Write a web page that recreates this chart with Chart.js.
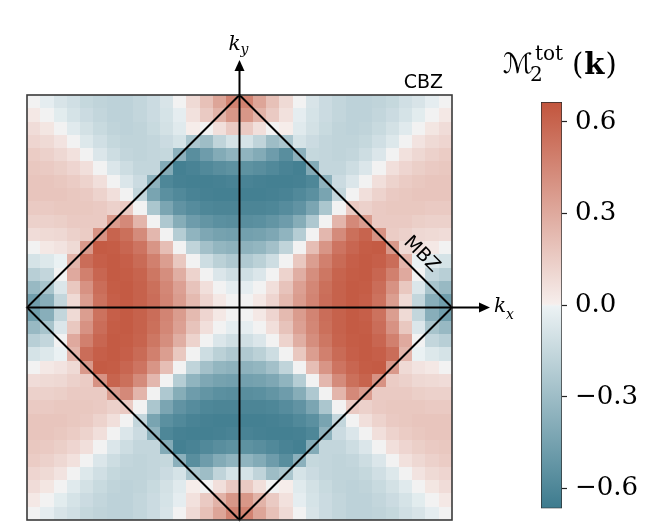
<!DOCTYPE html>
<html>
<head>
<meta charset="utf-8">
<script src="https://cdn.jsdelivr.net/npm/chart.js@4.4.1/dist/chart.umd.min.js"></script>
<style>
  html, body { margin: 0; padding: 0; background: #fff; }
  #wrap { position: relative; width: 664px; height: 532px; }
  #map { position: absolute; left: 0; top: 0; }
  #cbar { position: absolute; left: 490px; top: 0; }
</style>
</head>
<body>
<div id="wrap">
  <canvas id="map" width="664" height="532"></canvas>
  <canvas id="cbar" width="174" height="532"></canvas>
</div>
<script>
// cell centres (units of pi/a), columns left->right and rows top->bottom
const kxCenters = [-0.96875,-0.90625,-0.84375,-0.78125,-0.71875,-0.65625,-0.59375,-0.53125,-0.46875,-0.40625,-0.34375,-0.28125,-0.21875,-0.15625,-0.09375,-0.03125,0.03125,0.09375,0.15625,0.21875,0.28125,0.34375,0.40625,0.46875,0.53125,0.59375,0.65625,0.71875,0.78125,0.84375,0.90625,0.96875];
const kyCenters = [0.96875,0.90625,0.84375,0.78125,0.71875,0.65625,0.59375,0.53125,0.46875,0.40625,0.34375,0.28125,0.21875,0.15625,0.09375,0.03125,-0.03125,-0.09375,-0.15625,-0.21875,-0.28125,-0.34375,-0.40625,-0.46875,-0.53125,-0.59375,-0.65625,-0.71875,-0.78125,-0.84375,-0.90625,-0.96875];

// M2^tot(k), one row per ky
const m2tot = [
  [0,-0.03,-0.08,-0.11,-0.15,-0.17,-0.18,-0.18,-0.16,-0.13,-0.08,0,0.09,0.2,0.32,0.47,0.47,0.32,0.2,0.09,0,-0.08,-0.13,-0.16,-0.18,-0.18,-0.17,-0.15,-0.11,-0.08,-0.03,0],
  [0.03,0,-0.04,-0.09,-0.13,-0.16,-0.18,-0.18,-0.16,-0.13,-0.09,-0.03,0.06,0.16,0.26,0.38,0.38,0.26,0.16,0.06,-0.03,-0.09,-0.13,-0.16,-0.18,-0.18,-0.16,-0.13,-0.09,-0.04,0,0.03],
  [0.08,0.04,0,-0.05,-0.1,-0.14,-0.17,-0.18,-0.17,-0.14,-0.1,-0.05,0.01,0,0.07,0.16,0.16,0.07,0,0.01,-0.05,-0.1,-0.14,-0.17,-0.18,-0.17,-0.14,-0.1,-0.05,0,0.04,0.08],
  [0.11,0.09,0.05,0,-0.06,-0.11,-0.15,-0.17,-0.17,-0.16,-0.13,-0.09,-0.25,-0.3,-0.17,-0.09,-0.09,-0.17,-0.3,-0.25,-0.09,-0.13,-0.16,-0.17,-0.17,-0.15,-0.11,-0.06,0,0.05,0.09,0.11],
  [0.15,0.13,0.1,0.06,0,-0.07,-0.12,-0.16,-0.17,-0.16,-0.15,-0.37,-0.56,-0.48,-0.4,-0.35,-0.35,-0.4,-0.48,-0.56,-0.37,-0.15,-0.16,-0.17,-0.16,-0.12,-0.07,0,0.06,0.1,0.13,0.15],
  [0.17,0.16,0.14,0.11,0.07,0,-0.07,-0.12,-0.16,-0.16,-0.4,-0.64,-0.62,-0.59,-0.56,-0.54,-0.54,-0.56,-0.59,-0.62,-0.64,-0.4,-0.16,-0.16,-0.12,-0.07,0,0.07,0.11,0.14,0.16,0.17],
  [0.18,0.18,0.17,0.15,0.12,0.07,0,-0.07,-0.13,-0.36,-0.6,-0.63,-0.64,-0.64,-0.63,-0.62,-0.62,-0.63,-0.64,-0.64,-0.63,-0.6,-0.36,-0.13,-0.07,0,0.07,0.12,0.15,0.17,0.18,0.18],
  [0.18,0.18,0.18,0.17,0.16,0.12,0.07,0,-0.16,-0.44,-0.55,-0.59,-0.62,-0.63,-0.64,-0.64,-0.64,-0.64,-0.63,-0.62,-0.59,-0.55,-0.44,-0.16,0,0.07,0.12,0.16,0.17,0.18,0.18,0.18],
  [0.16,0.16,0.17,0.17,0.17,0.16,0.13,0.16,0,-0.25,-0.43,-0.53,-0.57,-0.6,-0.61,-0.61,-0.61,-0.61,-0.6,-0.57,-0.53,-0.43,-0.25,0,0.16,0.13,0.16,0.17,0.17,0.17,0.16,0.16],
  [0.13,0.13,0.14,0.16,0.16,0.16,0.36,0.44,0.25,0,-0.24,-0.39,-0.48,-0.52,-0.55,-0.56,-0.56,-0.55,-0.52,-0.48,-0.39,-0.24,0,0.25,0.44,0.36,0.16,0.16,0.16,0.14,0.13,0.13],
  [0.08,0.09,0.1,0.13,0.15,0.4,0.6,0.55,0.43,0.24,0,-0.21,-0.35,-0.42,-0.45,-0.46,-0.46,-0.45,-0.42,-0.35,-0.21,0,0.24,0.43,0.55,0.6,0.4,0.15,0.13,0.1,0.09,0.08],
  [0,0.03,0.05,0.09,0.37,0.64,0.63,0.59,0.53,0.39,0.21,0,-0.17,-0.28,-0.34,-0.36,-0.36,-0.34,-0.28,-0.17,0,0.21,0.39,0.53,0.59,0.63,0.64,0.37,0.09,0.05,0.03,0],
  [-0.09,-0.06,-0.01,0.25,0.56,0.62,0.64,0.62,0.57,0.48,0.35,0.17,0,-0.12,-0.19,-0.23,-0.23,-0.19,-0.12,0,0.17,0.35,0.48,0.57,0.62,0.64,0.62,0.56,0.25,-0.01,-0.06,-0.09],
  [-0.2,-0.16,0,0.3,0.48,0.59,0.64,0.63,0.6,0.52,0.42,0.28,0.12,0,-0.07,-0.11,-0.11,-0.07,0,0.12,0.28,0.42,0.52,0.6,0.63,0.64,0.59,0.48,0.3,0,-0.16,-0.2],
  [-0.32,-0.26,-0.07,0.17,0.4,0.56,0.63,0.64,0.61,0.55,0.45,0.34,0.19,0.07,0,-0.03,-0.03,0,0.07,0.19,0.34,0.45,0.55,0.61,0.64,0.63,0.56,0.4,0.17,-0.07,-0.26,-0.32],
  [-0.47,-0.38,-0.16,0.09,0.35,0.54,0.62,0.64,0.61,0.56,0.46,0.36,0.23,0.11,0.03,0,0,0.03,0.11,0.23,0.36,0.46,0.56,0.61,0.64,0.62,0.54,0.35,0.09,-0.16,-0.38,-0.47],
  [-0.47,-0.38,-0.16,0.09,0.35,0.54,0.62,0.64,0.61,0.56,0.46,0.36,0.23,0.11,0.03,0,0,0.03,0.11,0.23,0.36,0.46,0.56,0.61,0.64,0.62,0.54,0.35,0.09,-0.16,-0.38,-0.47],
  [-0.32,-0.26,-0.07,0.17,0.4,0.56,0.63,0.64,0.61,0.55,0.45,0.34,0.19,0.07,0,-0.03,-0.03,0,0.07,0.19,0.34,0.45,0.55,0.61,0.64,0.63,0.56,0.4,0.17,-0.07,-0.26,-0.32],
  [-0.2,-0.16,0,0.3,0.48,0.59,0.64,0.63,0.6,0.52,0.42,0.28,0.12,0,-0.07,-0.11,-0.11,-0.07,0,0.12,0.28,0.42,0.52,0.6,0.63,0.64,0.59,0.48,0.3,0,-0.16,-0.2],
  [-0.09,-0.06,-0.01,0.25,0.56,0.62,0.64,0.62,0.57,0.48,0.35,0.17,0,-0.12,-0.19,-0.23,-0.23,-0.19,-0.12,0,0.17,0.35,0.48,0.57,0.62,0.64,0.62,0.56,0.25,-0.01,-0.06,-0.09],
  [0,0.03,0.05,0.09,0.37,0.64,0.63,0.59,0.53,0.39,0.21,0,-0.17,-0.28,-0.34,-0.36,-0.36,-0.34,-0.28,-0.17,0,0.21,0.39,0.53,0.59,0.63,0.64,0.37,0.09,0.05,0.03,0],
  [0.08,0.09,0.1,0.13,0.15,0.4,0.6,0.55,0.43,0.24,0,-0.21,-0.35,-0.42,-0.45,-0.46,-0.46,-0.45,-0.42,-0.35,-0.21,0,0.24,0.43,0.55,0.6,0.4,0.15,0.13,0.1,0.09,0.08],
  [0.13,0.13,0.14,0.16,0.16,0.16,0.36,0.44,0.25,0,-0.24,-0.39,-0.48,-0.52,-0.55,-0.56,-0.56,-0.55,-0.52,-0.48,-0.39,-0.24,0,0.25,0.44,0.36,0.16,0.16,0.16,0.14,0.13,0.13],
  [0.16,0.16,0.17,0.17,0.17,0.16,0.13,0.16,0,-0.25,-0.43,-0.53,-0.57,-0.6,-0.61,-0.61,-0.61,-0.61,-0.6,-0.57,-0.53,-0.43,-0.25,0,0.16,0.13,0.16,0.17,0.17,0.17,0.16,0.16],
  [0.18,0.18,0.18,0.17,0.16,0.12,0.07,0,-0.16,-0.44,-0.55,-0.59,-0.62,-0.63,-0.64,-0.64,-0.64,-0.64,-0.63,-0.62,-0.59,-0.55,-0.44,-0.16,0,0.07,0.12,0.16,0.17,0.18,0.18,0.18],
  [0.18,0.18,0.17,0.15,0.12,0.07,0,-0.07,-0.13,-0.36,-0.6,-0.63,-0.64,-0.64,-0.63,-0.62,-0.62,-0.63,-0.64,-0.64,-0.63,-0.6,-0.36,-0.13,-0.07,0,0.07,0.12,0.15,0.17,0.18,0.18],
  [0.17,0.16,0.14,0.11,0.07,0,-0.07,-0.12,-0.16,-0.16,-0.4,-0.64,-0.62,-0.59,-0.56,-0.54,-0.54,-0.56,-0.59,-0.62,-0.64,-0.4,-0.16,-0.16,-0.12,-0.07,0,0.07,0.11,0.14,0.16,0.17],
  [0.15,0.13,0.1,0.06,0,-0.07,-0.12,-0.16,-0.17,-0.16,-0.15,-0.37,-0.56,-0.48,-0.4,-0.35,-0.35,-0.4,-0.48,-0.56,-0.37,-0.15,-0.16,-0.17,-0.16,-0.12,-0.07,0,0.06,0.1,0.13,0.15],
  [0.11,0.09,0.05,0,-0.06,-0.11,-0.15,-0.17,-0.17,-0.16,-0.13,-0.09,-0.25,-0.3,-0.17,-0.09,-0.09,-0.17,-0.3,-0.25,-0.09,-0.13,-0.16,-0.17,-0.17,-0.15,-0.11,-0.06,0,0.05,0.09,0.11],
  [0.08,0.04,0,-0.05,-0.1,-0.14,-0.17,-0.18,-0.17,-0.14,-0.1,-0.05,0.01,0,0.07,0.16,0.16,0.07,0,0.01,-0.05,-0.1,-0.14,-0.17,-0.18,-0.17,-0.14,-0.1,-0.05,0,0.04,0.08],
  [0.03,0,-0.04,-0.09,-0.13,-0.16,-0.18,-0.18,-0.16,-0.13,-0.09,-0.03,0.06,0.16,0.26,0.38,0.38,0.26,0.16,0.06,-0.03,-0.09,-0.13,-0.16,-0.18,-0.18,-0.16,-0.13,-0.09,-0.04,0,0.03],
  [0,-0.03,-0.08,-0.11,-0.15,-0.17,-0.18,-0.18,-0.16,-0.13,-0.08,0,0.09,0.2,0.32,0.47,0.47,0.32,0.2,0.09,0,-0.08,-0.13,-0.16,-0.18,-0.18,-0.17,-0.15,-0.11,-0.08,-0.03,0]
];

// magnetic BZ corners
const mbzKx = [1, 0, -1, 0, 1];
const mbzKy = [0, 1, 0, -1, 0];

// colour bar
const cbMin = -0.665, cbMax = 0.665;
const cbTicks = [-0.6, -0.3, 0, 0.3, 0.6];
const cbLabels = ['\u22120.6', '\u22120.3', '0.0', '0.3', '0.6'];

// diverging map, blue -> light grey -> red
const cmapStops = [
  [0.0, [61, 123, 142]],
  [0.497, [236, 242, 244]],
  [0.5, [242, 242, 242]],
  [0.503, [246, 238, 236]],
  [1.0, [194, 85, 61]]
];

function colourFor(v) {
  let t = (v - cbMin) / (cbMax - cbMin);
  t = Math.min(1, Math.max(0, t));
  for (let i = 1; i < cmapStops.length; i++) {
    const [t1, c1] = cmapStops[i];
    if (t <= t1) {
      const [t0, c0] = cmapStops[i - 1];
      const f = (t - t0) / (t1 - t0);
      const c = c0.map((a, k) => Math.round(a + (c1[k] - a) * f));
      return 'rgb(' + c.join(',') + ')';
    }
  }
  return 'rgb(' + cmapStops[cmapStops.length - 1][1].join(',') + ')';
}

const serif = '"DejaVu Serif", "DejaVu Sans", serif';

// draws the cells under the datasets and the frame/axes/labels over them
const heatmapPlugin = {
  id: 'heatmap',
  beforeDatasetsDraw(chart) {
    const { ctx, scales: { x, y } } = chart;
    const hx = (kxCenters[1] - kxCenters[0]) / 2;
    const hy = (kyCenters[0] - kyCenters[1]) / 2;
    ctx.save();
    m2tot.forEach((row, r) => {
      row.forEach((v, c) => {
        const x0 = Math.round(x.getPixelForValue(kxCenters[c] - hx));
        const x1 = Math.round(x.getPixelForValue(kxCenters[c] + hx));
        const y0 = Math.round(y.getPixelForValue(kyCenters[r] + hy));
        const y1 = Math.round(y.getPixelForValue(kyCenters[r] - hy));
        ctx.fillStyle = colourFor(v);
        ctx.fillRect(x0, y0, x1 - x0, y1 - y0);
      });
    });
    ctx.restore();
  },
  afterDatasetsDraw(chart) {
    const { ctx, chartArea: a, scales: { x, y } } = chart;
    const x0 = x.getPixelForValue(0), y0 = y.getPixelForValue(0);
    ctx.save();
    // CBZ frame
    ctx.strokeStyle = '#3a3a3a';
    ctx.lineWidth = 1.6;
    ctx.strokeRect(a.left, a.top, a.right - a.left, a.bottom - a.top);

    // kx, ky arrows
    const xTip = a.right + 38, yTip = a.top - 35;
    ctx.strokeStyle = '#000';
    ctx.fillStyle = '#000';
    ctx.lineWidth = 2;
    ctx.beginPath();
    ctx.moveTo(a.left, y0); ctx.lineTo(xTip - 8, y0);
    ctx.moveTo(x0, a.bottom); ctx.lineTo(x0, yTip + 8);
    ctx.stroke();
    ctx.beginPath();
    ctx.moveTo(xTip, y0); ctx.lineTo(xTip - 11, y0 - 5); ctx.lineTo(xTip - 11, y0 + 5);
    ctx.closePath(); ctx.fill();
    ctx.beginPath();
    ctx.moveTo(x0, yTip); ctx.lineTo(x0 - 5, yTip + 11); ctx.lineTo(x0 + 5, yTip + 11);
    ctx.closePath(); ctx.fill();

    // axis labels
    ctx.textAlign = 'left';
    ctx.textBaseline = 'alphabetic';
    ctx.font = 'italic 20px ' + serif;
    ctx.fillText('k', x0 - 11, yTip - 10);
    let w = ctx.measureText('k').width;
    ctx.font = 'italic 14px ' + serif;
    ctx.fillText('y', x0 - 11 + w, yTip - 6);

    ctx.font = 'italic 20px ' + serif;
    ctx.fillText('k', xTip + 4, y0 + 4);
    w = ctx.measureText('k').width;
    ctx.font = 'italic 14px ' + serif;
    ctx.fillText('x', xTip + 4 + w, y0 + 11);

    // zone names
    ctx.font = '19px "DejaVu Sans", sans-serif';
    ctx.textAlign = 'right';
    ctx.fillText('CBZ', a.right - 9, a.top - 7);

    const mx = x.getPixelForValue(0.805), my = y.getPixelForValue(0.198);
    ctx.translate(mx + 11, my - 11);
    ctx.rotate(Math.PI / 4);
    ctx.textAlign = 'center';
    ctx.textBaseline = 'middle';
    ctx.fillText('MBZ', 0, 0);
    ctx.restore();
  }
};

new Chart(document.getElementById('map'), {
  type: 'scatter',
  data: {
    datasets: [{
      label: 'MBZ',
      data: mbzKx.map((v, i) => ({ x: v, y: mbzKy[i] })),
      showLine: true,
      borderColor: '#000',
      borderWidth: 2,
      pointRadius: 0,
      clip: false
    }]
  },
  options: {
    responsive: false,
    animation: false,
    events: [],
    layout: { padding: { left: 27, top: 95, right: 212, bottom: 12 } },
    scales: {
      x: { type: 'linear', min: -1, max: 1, display: false },
      y: { type: 'linear', min: -1, max: 1, display: false }
    },
    plugins: { legend: { display: false }, tooltip: { enabled: false } }
  },
  plugins: [heatmapPlugin]
});

// colour bar title
const cbTitlePlugin = {
  id: 'cbTitle',
  afterDraw(chart) {
    const ctx = chart.ctx;
    ctx.save();
    ctx.fillStyle = '#000';
    ctx.textAlign = 'left';
    ctx.textBaseline = 'alphabetic';
    ctx.font = '28px ' + serif;
    ctx.fillText('\u2133', 13, 73);
    ctx.font = '20px ' + serif;
    ctx.fillText('2', 40, 81);
    ctx.fillText('tot', 45, 60);
    let px = 82;
    ctx.font = '29px ' + serif;
    ctx.fillText('(', px, 74);
    px += ctx.measureText('(').width + 1;
    ctx.font = 'bold 29px ' + serif;
    ctx.fillText('k', px, 74);
    px += ctx.measureText('k').width + 1;
    ctx.font = '29px ' + serif;
    ctx.fillText(')', px, 74);
    ctx.restore();
  }
};

new Chart(document.getElementById('cbar'), {
  type: 'bar',
  data: {
    labels: ['M2'],
    datasets: [{
      data: [[cbMin, cbMax]],
      backgroundColor(c) {
        const area = c.chart.chartArea;
        if (!area) return '#f2f2f2';
        const g = c.chart.ctx.createLinearGradient(0, area.bottom, 0, area.top);
        cmapStops.forEach(([t, col]) => g.addColorStop(t, 'rgb(' + col.join(',') + ')'));
        return g;
      },
      borderColor: '#2b2b2b',
      borderWidth: 1,
      borderSkipped: false,
      barPercentage: 1,
      categoryPercentage: 1
    }]
  },
  options: {
    responsive: false,
    animation: false,
    events: [],
    layout: { padding: { left: 51, right: 0, top: 102, bottom: 21 } },
    scales: {
      x: { display: false },
      y: {
        position: 'right',
        min: cbMin,
        max: cbMax,
        afterBuildTicks(s) { s.ticks = cbTicks.map(v => ({ value: v })); },
        afterFit(s) { s.width = 102; },
        border: { display: false },
        grid: { drawOnChartArea: false, tickLength: 5, tickColor: '#222', tickWidth: 1.2 },
        ticks: {
          color: '#000',
          padding: 8,
          font: { family: 'DejaVu Serif', size: 26 },
          callback(v) { return cbLabels[cbTicks.indexOf(v)]; }
        }
      }
    },
    plugins: { legend: { display: false }, tooltip: { enabled: false } }
  },
  plugins: [cbTitlePlugin]
});
</script>
</body>
</html>
